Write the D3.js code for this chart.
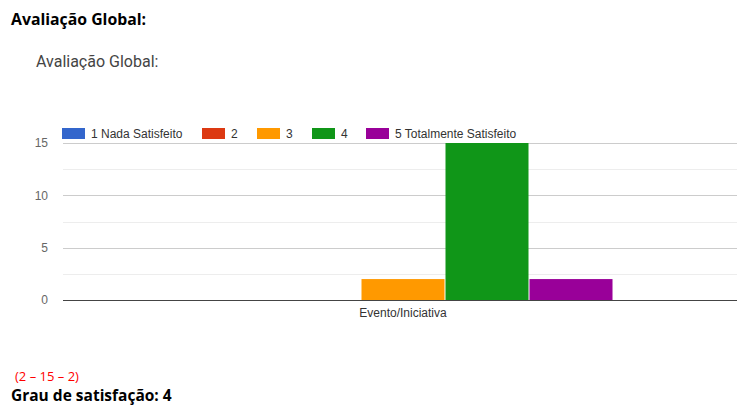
<!DOCTYPE html>
<html>
<head>
<meta charset="utf-8">
<script src="https://cdn.jsdelivr.net/npm/d3@7"></script>
<style>
  html, body { margin: 0; padding: 0; background: #fff; }
  svg { display: block; }
</style>
</head>
<body>
<script>
// Survey result: "Avaliação Global" rated by participants on a 1–5 scale
const categories = ["Evento/Iniciativa"];
const seriesNames = ["1 Nada Satisfeito", "2", "3", "4", "5 Totalmente Satisfeito"];
const seriesValues = [[0], [0], [2], [15], [2]];
const seriesColors = ["#3366cc", "#dc3912", "#ff9900", "#109618", "#990099"];
const yTicks = [0, 5, 10, 15];
const yMinorTicks = [2.5, 7.5, 12.5];

const W = 737, H = 407;
const svg = d3.select("body").append("svg").attr("width", W).attr("height", H);

// Page heading
svg.append("text")
  .attr("x", 11).attr("y", 25)
  .attr("font-family", "'Open Sans', sans-serif")
  .attr("font-weight", "bold").attr("font-size", 15.8)
  .attr("fill", "#000")
  .text("Avaliação Global:");

// Chart title
svg.append("text")
  .attr("x", 36).attr("y", 67)
  .attr("font-family", "Roboto, sans-serif")
  .attr("font-size", 16).attr("fill", "#444")
  .text("Avaliação Global:");

// Plot area
const plot = { left: 63, right: 743, top: 143, bottom: 300 };

const x0 = d3.scaleBand().domain(categories)
  .range([plot.left, plot.right]).paddingInner(0).paddingOuter(0.3095);
const x1 = d3.scaleBand().domain(seriesNames.map((d, i) => i))
  .range([0, x0.bandwidth()]).padding(0);
const y = d3.scaleLinear().domain([0, 15]).range([plot.bottom, plot.top]);

const g = svg.append("g");

// Minor gridlines
g.selectAll("line.minor").data(yMinorTicks).join("line")
  .attr("class", "minor")
  .attr("x1", plot.left).attr("x2", plot.right)
  .attr("y1", d => Math.round(y(d)) + 0.5).attr("y2", d => Math.round(y(d)) + 0.5)
  .attr("stroke", "#ededed").attr("stroke-width", 1);

// Major gridlines
g.selectAll("line.major").data(yTicks.filter(d => d !== 0)).join("line")
  .attr("class", "major")
  .attr("x1", plot.left).attr("x2", plot.right)
  .attr("y1", d => Math.round(y(d)) + 0.5).attr("y2", d => Math.round(y(d)) + 0.5)
  .attr("stroke", "#cccccc").attr("stroke-width", 1);

// Y axis labels
const yAxis = d3.axisLeft(y).tickValues(yTicks).tickSize(0).tickPadding(0)
  .tickFormat(d3.format("d"));
const ya = svg.append("g").attr("transform", `translate(${plot.left - 15},0)`).call(yAxis);
ya.select(".domain").remove();
ya.selectAll("text")
  .attr("font-family", "Arial, 'Liberation Sans', sans-serif")
  .attr("font-size", 12).attr("fill", "#666");

// Bars
const groups = g.selectAll("g.cat").data(categories).join("g")
  .attr("class", "cat")
  .attr("transform", d => `translate(${x0(d)},0)`);

groups.selectAll("rect").data((c, ci) => seriesNames.map((s, si) => ({ si, v: seriesValues[si][ci] })))
  .join("rect")
  .attr("x", d => x1(d.si) + 0.5)
  .attr("width", x1.bandwidth() - 1)
  .attr("y", d => y(d.v))
  .attr("height", d => y(0) - y(d.v))
  .attr("fill", d => seriesColors[d.si]);

// Baseline
g.append("line")
  .attr("x1", plot.left).attr("x2", plot.right)
  .attr("y1", y(0) + 0.5).attr("y2", y(0) + 0.5)
  .attr("stroke", "#444").attr("stroke-width", 1);

// X axis label
const xAxis = d3.axisBottom(x0).tickSize(0).tickPadding(0);
const xa = svg.append("g").attr("transform", `translate(0,${plot.bottom + 8})`).call(xAxis);
xa.select(".domain").remove();
xa.selectAll("text")
  .attr("font-family", "Arial, 'Liberation Sans', sans-serif")
  .attr("font-size", 12).attr("fill", "#333");

// Legend
const legendX = [62, 202, 257, 312, 366];
const legend = svg.append("g").selectAll("g").data(seriesNames).join("g")
  .attr("transform", (d, i) => `translate(${legendX[i]},128)`);
legend.append("rect")
  .attr("width", 23).attr("height", 11)
  .attr("fill", (d, i) => seriesColors[i]);
legend.append("text")
  .attr("x", 29).attr("y", 10)
  .attr("font-family", "Arial, 'Liberation Sans', sans-serif")
  .attr("font-size", 12).attr("fill", "#333")
  .text(d => d);

// Notes below the chart
svg.append("text")
  .attr("x", 15).attr("y", 381)
  .attr("font-family", "'Open Sans', sans-serif")
  .attr("font-size", 13).attr("fill", "#ff0000")
  .text("(2 – 15 – 2)");

svg.append("text")
  .attr("x", 11).attr("y", 401)
  .attr("font-family", "'Open Sans', sans-serif")
  .attr("font-weight", "bold").attr("font-size", 15.5)
  .attr("fill", "#000")
  .text("Grau de satisfação: 4");
</script>
</body>
</html>
